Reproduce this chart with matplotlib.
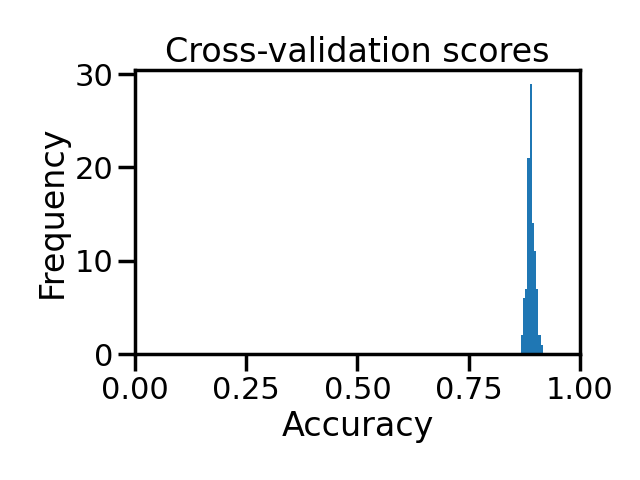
import numpy as np
import matplotlib
matplotlib.use("Agg")
import matplotlib.pyplot as plt
import seaborn as sns

# histogram of cross-validation accuracy
counts = [2, 6, 7, 21, 29, 14, 11, 7, 2, 1]
score_min = 0.867
score_max = 0.917

sns.set_context("poster")

edges = np.linspace(score_min, score_max, len(counts) + 1)
centers = (edges[:-1] + edges[1:]) / 2

fig = plt.figure(figsize=(6.4, 4.8), dpi=100)
ax = fig.add_axes([0.211, 0.2625, 0.695, 0.5917])
ax.hist(centers, bins=edges, weights=counts)
ax.set_xlim(0, 1)
ax.set_xticks([0, 0.25, 0.5, 0.75, 1.0])
ax.set_yticks([0, 10, 20, 30])
ax.set_xlabel("Accuracy")
ax.set_ylabel("Frequency")
ax.set_title("Cross-validation scores")
fig.savefig("out.png")
